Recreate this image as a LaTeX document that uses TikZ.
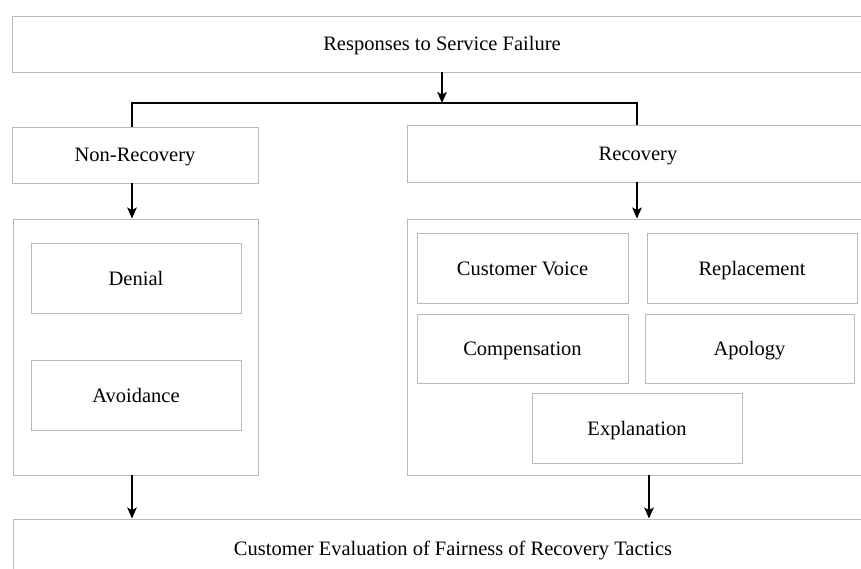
\documentclass[tikz,border=0pt]{standalone}
\usepackage{fontspec}
\setmainfont{Liberation Serif}
\usetikzlibrary{arrows.meta}
\begin{document}
\begin{tikzpicture}[x=1pt,y=-1pt,
  box/.style={draw=gray!55,line width=0.9pt,inner sep=0pt,font=\fontsize{20.5}{24}\selectfont,text=black,text height=16pt,text depth=2pt},
  conn/.style={line width=1.7pt,black},
  arr/.style={conn,-{Stealth[length=11pt,width=9.5pt,inset=2.5pt]}}]
\clip (0,0) rectangle (861,569);
\fill[white] (0,0) rectangle (861,569);
% main boxes
\node[box,minimum width=860,minimum height=56] (top) at (442,44) {Responses to Service Failure};
\node[box,minimum width=246,minimum height=56] (nonrec) at (135,155) {Non-Recovery};
\node[box,minimum width=462,minimum height=57] (rec) at (638,153.5) {Recovery};
\node[box,minimum width=245,minimum height=256] (lgrp) at (135.5,347) {};
\node[box,minimum width=470,minimum height=256] (rgrp) at (642,347) {};
\node[box,minimum width=210,minimum height=70] (denial) at (136,278) {Denial};
\node[box,minimum width=210,minimum height=70] (avoid) at (136,395) {Avoidance};
\node[box,minimum width=211,minimum height=70] (voice) at (522.5,268) {Customer Voice};
\node[box,minimum width=210,minimum height=70] (repl) at (752,268) {Replacement};
\node[box,minimum width=211,minimum height=69] (comp) at (522.5,348.5) {Compensation};
\node[box,minimum width=209,minimum height=69] (apol) at (749.5,348.5) {Apology};
\node[box,minimum width=210,minimum height=70] (expl) at (637,428) {Explanation};
\node[box,minimum width=880,minimum height=58] (eval) at (453,548) {Customer Evaluation of Fairness of Recovery Tactics};
% junction coordinates
\coordinate (j) at (442,103);
\coordinate (jl) at (132,103);
\coordinate (jr) at (637,103);
\coordinate (jo) at (649,0);
% connectors
\draw[arr] (top.south -| j) -- (j);
\draw[conn] (nonrec.north -| jl) -- (jl) -- (jr) -- (rec.north -| jr);
\draw[arr] (nonrec.south -| jl) -- (lgrp.north -| jl);
\draw[arr] (rec.south -| jr) -- (rgrp.north -| jr);
\draw[arr] (lgrp.south -| jl) -- (eval.north -| jl);
\draw[arr] (rgrp.south -| jo) -- (eval.north -| jo);
\end{tikzpicture}
\end{document}
